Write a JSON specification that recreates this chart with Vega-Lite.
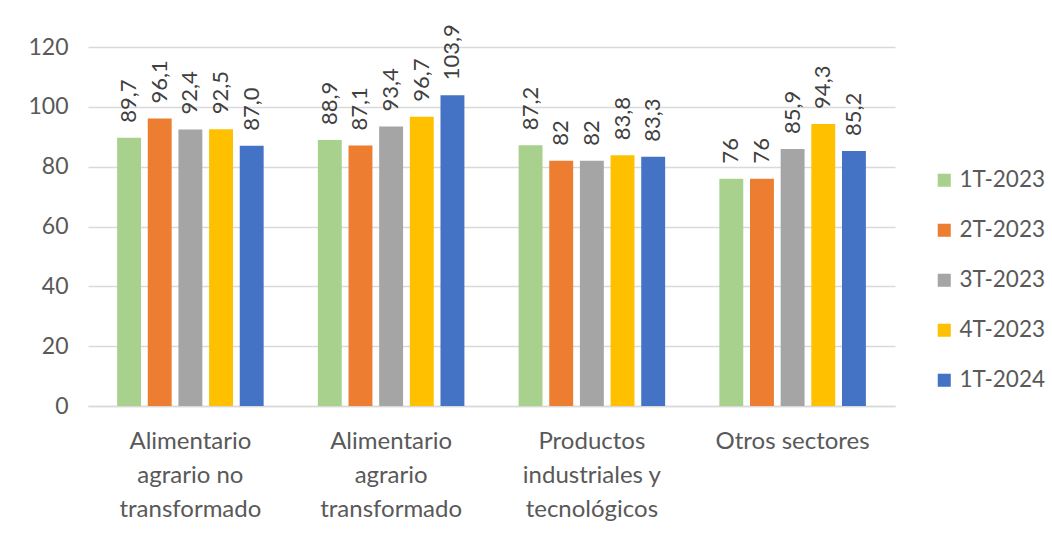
{
  "$schema": "https://vega.github.io/schema/vega-lite/v6.json",
  "width": 807,
  "height": 359,
  "autosize": {"type": "none"},
  "padding": {"left": 88, "top": 47, "right": 157, "bottom": 127},
  "background": "white",
  "config": {
    "font": "Lato",
    "view": {"stroke": null}
  },
  "data": {
    "values": [
      {"sector": "Alimentario|agrario no|transformado", "periodo": "1T-2023", "valor": 89.7, "etiqueta": "89,7"},
      {"sector": "Alimentario|agrario no|transformado", "periodo": "2T-2023", "valor": 96.1, "etiqueta": "96,1"},
      {"sector": "Alimentario|agrario no|transformado", "periodo": "3T-2023", "valor": 92.4, "etiqueta": "92,4"},
      {"sector": "Alimentario|agrario no|transformado", "periodo": "4T-2023", "valor": 92.5, "etiqueta": "92,5"},
      {"sector": "Alimentario|agrario no|transformado", "periodo": "1T-2024", "valor": 87.0, "etiqueta": "87,0"},
      {"sector": "Alimentario|agrario|transformado", "periodo": "1T-2023", "valor": 88.9, "etiqueta": "88,9"},
      {"sector": "Alimentario|agrario|transformado", "periodo": "2T-2023", "valor": 87.1, "etiqueta": "87,1"},
      {"sector": "Alimentario|agrario|transformado", "periodo": "3T-2023", "valor": 93.4, "etiqueta": "93,4"},
      {"sector": "Alimentario|agrario|transformado", "periodo": "4T-2023", "valor": 96.7, "etiqueta": "96,7"},
      {"sector": "Alimentario|agrario|transformado", "periodo": "1T-2024", "valor": 103.9, "etiqueta": "103,9"},
      {"sector": "Productos|industriales y|tecnológicos", "periodo": "1T-2023", "valor": 87.2, "etiqueta": "87,2"},
      {"sector": "Productos|industriales y|tecnológicos", "periodo": "2T-2023", "valor": 82, "etiqueta": "82"},
      {"sector": "Productos|industriales y|tecnológicos", "periodo": "3T-2023", "valor": 82, "etiqueta": "82"},
      {"sector": "Productos|industriales y|tecnológicos", "periodo": "4T-2023", "valor": 83.8, "etiqueta": "83,8"},
      {"sector": "Productos|industriales y|tecnológicos", "periodo": "1T-2024", "valor": 83.3, "etiqueta": "83,3"},
      {"sector": "Otros sectores", "periodo": "1T-2023", "valor": 76, "etiqueta": "76"},
      {"sector": "Otros sectores", "periodo": "2T-2023", "valor": 76, "etiqueta": "76"},
      {"sector": "Otros sectores", "periodo": "3T-2023", "valor": 85.9, "etiqueta": "85,9"},
      {"sector": "Otros sectores", "periodo": "4T-2023", "valor": 94.3, "etiqueta": "94,3"},
      {"sector": "Otros sectores", "periodo": "1T-2024", "valor": 85.2, "etiqueta": "85,2"}
    ]
  },
  "encoding": {
    "x": {
      "field": "sector",
      "type": "nominal",
      "sort": null,
      "scale": {"paddingInner": 0.27, "paddingOuter": 0.145},
      "axis": {
        "title": null,
        "labelAngle": 0,
        "labelExpr": "split(datum.label, '|')",
        "labelFontSize": 24,
        "labelColor": "#595959",
        "labelLineHeight": 34,
        "labelPadding": 23,
        "labelBaseline": "top",
        "ticks": false,
        "domainColor": "#d9d9d9",
        "domainWidth": 1.5,
        "labelLimit": 300
      }
    },
    "xOffset": {
      "field": "periodo",
      "type": "nominal",
      "sort": ["1T-2023", "2T-2023", "3T-2023", "4T-2023", "1T-2024"],
      "scale": {"paddingInner": 0.22, "paddingOuter": 0}
    },
    "y": {
      "field": "valor",
      "type": "quantitative",
      "scale": {"domain": [0, 120]},
      "axis": {
        "title": null,
        "values": [0, 20, 40, 60, 80, 100, 120],
        "labelFontSize": 23,
        "labelColor": "#595959",
        "labelPadding": 20,
        "ticks": false,
        "domain": false,
        "gridColor": "#d9d9d9",
        "gridWidth": 1.5
      }
    }
  },
  "layer": [
    {
      "mark": {"type": "bar"},
      "encoding": {
        "color": {
          "field": "periodo",
          "type": "nominal",
          "sort": ["1T-2023", "2T-2023", "3T-2023", "4T-2023", "1T-2024"],
          "scale": {
            "domain": ["1T-2023", "2T-2023", "3T-2023", "4T-2023", "1T-2024"],
            "range": ["#A9D18E", "#ED7D31", "#A5A5A5", "#FFC000", "#4472C4"]
          },
          "legend": {
            "title": null,
            "orient": "none",
            "legendX": 845,
            "legendY": 122,
            "padding": 0,
            "symbolType": "square",
            "symbolSize": 170,
            "symbolStrokeWidth": 0,
            "labelFontSize": 22.5,
            "labelColor": "#595959",
            "labelOffset": 4,
            "rowPadding": 27
          }
        }
      }
    },
    {
      "mark": {
        "type": "text",
        "angle": -90,
        "align": "left",
        "baseline": "middle",
        "dx": 15,
        "fontSize": 22,
        "color": "#404040"
      },
      "encoding": {
        "text": {"field": "etiqueta"}
      }
    }
  ]
}
